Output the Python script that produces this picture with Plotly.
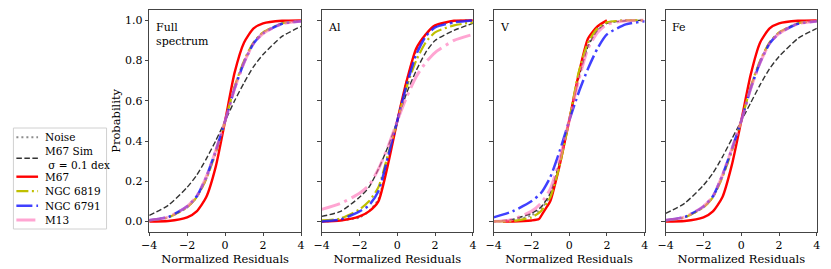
import plotly.graph_objects as go

# ---------------- data ----------------
X_GRID = [-4, -3, -2, -1.5, -1, -0.5, 0, 0.5, 1, 1.5, 2, 3, 4]
PANELS = ["Full<br>spectrum", "Al", "V", "Fe"]
X_TICKS = [-4, -2, 0, 2, 4]
Y_TICKS = [0.0, 0.2, 0.4, 0.6, 0.8, 1.0]
SERIES = ["Noise", "M67 Sim<br> \u03c3 = 0.1 dex", "M67", "NGC 6819", "NGC 6791", "M13"]

# Full spectrum
FULL_NOISE = [0.005, 0.02, 0.07, 0.12, 0.21, 0.34, 0.5, 0.67, 0.8, 0.89, 0.94, 0.985, 0.997]
FULL_SIM = [0.03, 0.08, 0.17, 0.23, 0.31, 0.4, 0.5, 0.6, 0.69, 0.77, 0.83, 0.92, 0.97]
FULL_M67 = [0.0, 0.002, 0.02, 0.05, 0.12, 0.27, 0.5, 0.74, 0.89, 0.96, 0.985, 0.998, 1.0]
FULL_6819 = [0.005, 0.02, 0.07, 0.12, 0.21, 0.34, 0.5, 0.67, 0.8, 0.89, 0.94, 0.985, 0.997]
FULL_6791 = [0.006, 0.022, 0.075, 0.125, 0.22, 0.35, 0.5, 0.66, 0.79, 0.885, 0.935, 0.983, 0.996]
FULL_M13 = [0.006, 0.022, 0.075, 0.125, 0.22, 0.35, 0.5, 0.66, 0.79, 0.885, 0.935, 0.983, 0.996]

# Al
AL_NOISE = [0.0, 0.005, 0.02, 0.05, 0.11, 0.3, 0.5, 0.7, 0.85, 0.93, 0.97, 0.995, 1.0]
AL_SIM = [0.025, 0.05, 0.12, 0.17, 0.26, 0.37, 0.5, 0.64, 0.75, 0.84, 0.9, 0.95, 0.985]
AL_M67 = [0.0, 0.005, 0.025, 0.05, 0.1, 0.28, 0.5, 0.7, 0.86, 0.93, 0.975, 0.998, 1.0]
AL_6819 = [0.005, 0.015, 0.06, 0.1, 0.17, 0.33, 0.5, 0.67, 0.8, 0.89, 0.94, 0.975, 0.99]
AL_6791 = [0.0, 0.01, 0.05, 0.08, 0.15, 0.32, 0.5, 0.68, 0.83, 0.92, 0.965, 0.99, 1.0]
AL_M13 = [0.06, 0.09, 0.14, 0.18, 0.26, 0.37, 0.5, 0.62, 0.72, 0.79, 0.84, 0.9, 0.93]

# V
V_NOISE = [0.0, 0.005, 0.03, 0.06, 0.13, 0.29, 0.5, 0.72, 0.88, 0.955, 0.99, 1.0, 1.0]
V_SIM = [0.0, 0.01, 0.04, 0.07, 0.14, 0.3, 0.5, 0.71, 0.87, 0.95, 0.985, 0.998, 1.0]
V_M67_X = [-3.5, -3, -2, -1.6, -1.4, -1.2, -1, -0.5, 0, 0.5, 1, 1.5, 2.0]
V_M67 = [0.0, 0.0, 0.005, 0.012, 0.04, 0.07, 0.1, 0.28, 0.5, 0.73, 0.91, 0.97, 1.0]
V_6819 = [0.0, 0.002, 0.02, 0.05, 0.12, 0.28, 0.5, 0.74, 0.89, 0.96, 0.99, 1.0, 1.0]
V_6791 = [0.02, 0.05, 0.1, 0.14, 0.22, 0.35, 0.5, 0.64, 0.76, 0.86, 0.93, 0.98, 0.995]
V_M13 = [0.0, 0.01, 0.05, 0.09, 0.16, 0.31, 0.5, 0.7, 0.86, 0.94, 0.98, 0.998, 1.0]

# Fe
FE_NOISE = [0.005, 0.02, 0.07, 0.12, 0.22, 0.35, 0.5, 0.67, 0.8, 0.89, 0.94, 0.985, 0.997]
FE_SIM = [0.04, 0.09, 0.18, 0.24, 0.32, 0.41, 0.5, 0.59, 0.68, 0.76, 0.82, 0.91, 0.96]
FE_M67 = [0.0, 0.002, 0.02, 0.05, 0.12, 0.28, 0.5, 0.73, 0.89, 0.96, 0.985, 0.998, 1.0]
FE_6819 = [0.005, 0.02, 0.07, 0.12, 0.22, 0.35, 0.5, 0.67, 0.8, 0.89, 0.94, 0.985, 0.997]
FE_6791 = [0.006, 0.022, 0.075, 0.125, 0.23, 0.36, 0.5, 0.66, 0.79, 0.885, 0.935, 0.983, 0.996]
FE_M13 = [0.006, 0.022, 0.075, 0.125, 0.23, 0.36, 0.5, 0.66, 0.79, 0.885, 0.935, 0.983, 0.996]

# ---------------- styling ----------------
FONT = "DejaVu Serif, Liberation Serif, serif"
STYLES = [
    dict(color="rgba(128,128,128,0.9)", width=2, dash="2px,3px"),
    dict(color="#333333", width=1.4, dash="5.5px,2.5px"),
    dict(color="#ff0000", width=2.4, dash="solid"),
    dict(color="#bfbf00", width=2.2, dash="12px,3.5px,2px,3.5px"),
    dict(color="rgba(30,30,255,0.85)", width=2.5, dash="16px,4px,2.5px,4px"),
    dict(color="rgba(255,105,180,0.6)", width=3, dash="19px,5px,3px,5px"),
]

panel_data = [
    [(X_GRID, FULL_NOISE), (X_GRID, FULL_SIM), (X_GRID, FULL_M67), (X_GRID, FULL_6819), (X_GRID, FULL_6791), (X_GRID, FULL_M13)],
    [(X_GRID, AL_NOISE), (X_GRID, AL_SIM), (X_GRID, AL_M67), (X_GRID, AL_6819), (X_GRID, AL_6791), (X_GRID, AL_M13)],
    [(X_GRID, V_NOISE), (X_GRID, V_SIM), (V_M67_X, V_M67), (X_GRID, V_6819), (X_GRID, V_6791), (X_GRID, V_M13)],
    [(X_GRID, FE_NOISE), (X_GRID, FE_SIM), (X_GRID, FE_M67), (X_GRID, FE_6819), (X_GRID, FE_6791), (X_GRID, FE_M13)],
]

W, H = 831, 269
x_domains = [(143.3, 297.3), (318.3, 471.7), (492.7, 646.0), (667.3, 820.7)]
y_domain = [1 - 231.5 / H, 1 - 10.3 / H]

fig = go.Figure()
for p, series in enumerate(panel_data):
    ax = "" if p == 0 else str(p + 1)
    for s, (xs, ys) in enumerate(series):
        fig.add_trace(go.Scatter(
            x=xs, y=ys, mode="lines", line=dict(shape="spline", smoothing=0.6, **STYLES[s]),
            name=SERIES[s], showlegend=False,
            xaxis="x" + ax, yaxis="y" + ax, hoverinfo="skip",
        ))

axis_common = dict(
    showline=True, mirror=True, linecolor="#444", linewidth=1, ticks="outside",
    ticklen=3.5, tickcolor="#444", showgrid=False, zeroline=False,
    tickfont=dict(family=FONT, size=11, color="black"),
)

shapes = []
annotations = []


def px(x):
    return x / W


def py(y):
    return 1 - y / H


# matplotlib-style legend box on the left
shapes.append(dict(type="rect", xref="paper", yref="paper", x0=px(5.5), x1=px(100), y0=py(229),
                   y1=py(128), line=dict(color="#d0d0d0", width=1), fillcolor="white", layer="above"))
legend_rows = [137.3, 158.3, 176.7, 191.2, 205.7, 220.0]
for s, yrow in enumerate(legend_rows):
    st = STYLES[s]
    shapes.append(dict(type="line", xref="paper", yref="paper", x0=px(8.5), x1=px(30.5),
                       y0=py(yrow), y1=py(yrow),
                       line=dict(color=st["color"], width=st["width"], dash=st["dash"]), layer="above"))
    annotations.append(dict(text=SERIES[s], xref="paper", yref="paper", x=px(36), y=py(yrow),
                            xanchor="left", yanchor="middle", showarrow=False, align="left",
                            font=dict(family=FONT, size=10.5, color="black")))

layout = dict(
    width=W, height=H, margin=dict(l=0, r=0, t=0, b=0),
    paper_bgcolor="white", plot_bgcolor="white", showlegend=False,
    font=dict(family=FONT, size=11, color="black"),
)
for p in range(4):
    key = "" if p == 0 else str(p + 1)
    x0, x1 = x_domains[p]
    layout["xaxis" + key] = dict(
        axis_common, domain=[x0 / W, x1 / W], range=[-4, 4], tickvals=X_TICKS,
        anchor="y" + key,
        title=dict(text="Normalized Residuals", font=dict(family=FONT, size=11.5), standoff=0),
    )
    ydict = dict(axis_common, domain=y_domain, range=[-0.05, 1.05], tickvals=Y_TICKS,
                 anchor="x" + key, showticklabels=(p == 0), tickformat=".1f")
    if p == 0:
        ydict["title"] = dict(text="Probability", font=dict(family=FONT, size=11.5), standoff=1)
    layout["yaxis" + key] = ydict
    annotations.append(dict(
        text=PANELS[p], xref=("x" + key + " domain"), yref=("y" + key + " domain"),
        x=0.03, y=0.96, xanchor="left", yanchor="top", showarrow=False, align="left",
        font=dict(family=FONT, size=11, color="black"),
    ))

layout["shapes"] = shapes
layout["annotations"] = annotations
fig.update_layout(**layout)
fig.write_html("out.html", config={"displayModeBar": False},
               post_script="document.body.style.margin='0';document.body.style.overflow='hidden';")
